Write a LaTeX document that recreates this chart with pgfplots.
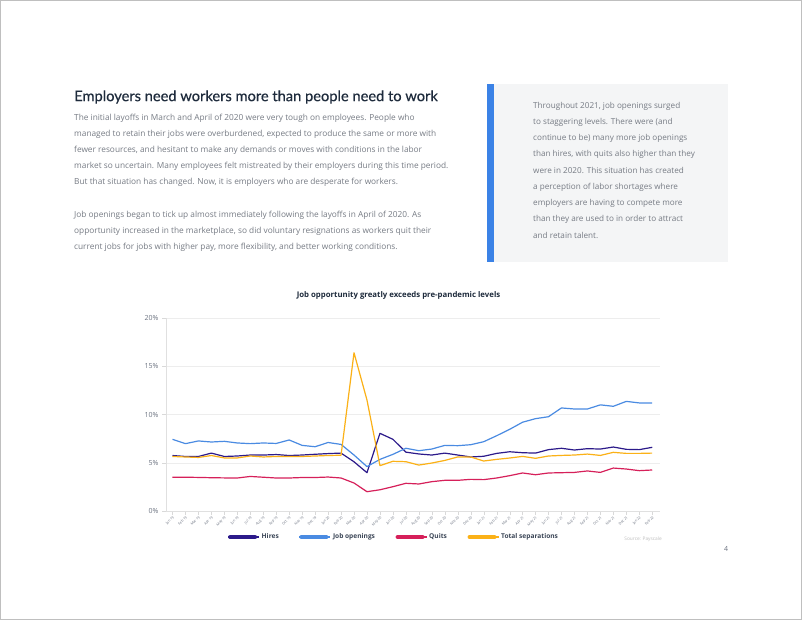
\documentclass[border=0pt]{standalone}
\usepackage{pgfplots}
\pgfplotsset{compat=1.18}
\usepackage{pgfplotstable}
\usepackage{fontspec}
\setmainfont{Open Sans}
\newfontfamily\titlefont{Lato}[FakeBold=0.5]
\definecolor{titlec}{HTML}{1E2B3C}
\definecolor{bodyc}{HTML}{767B84}
\definecolor{boxbg}{HTML}{F4F5F6}
\definecolor{barblue}{HTML}{3B82E6}
\definecolor{hiresc}{HTML}{2C1A8A}
\definecolor{jobsc}{HTML}{4A8BE2}
\definecolor{quitsc}{HTML}{D6205A}
\definecolor{sepc}{HTML}{FBB117}
\definecolor{tickc}{HTML}{6B7280}
\definecolor{legc}{HTML}{3A4556}

\pgfplotstableread{
i hires jobs quits seps
0 5.75 7.43 3.50 5.65
1 5.65 6.98 3.50 5.60
2 5.65 7.26 3.48 5.55
3 6.00 7.15 3.45 5.75
4 5.65 7.22 3.43 5.50
5 5.70 7.05 3.42 5.50
6 5.80 6.98 3.58 5.70
7 5.80 7.05 3.50 5.60
8 5.85 7.00 3.42 5.65
9 5.75 7.36 3.42 5.65
10 5.80 6.80 3.47 5.65
11 5.88 6.66 3.47 5.70
12 5.95 7.10 3.52 5.75
13 6.00 6.90 3.42 5.78
14 5.10 5.80 2.90 16.40
15 3.97 4.60 2.00 11.50
16 8.05 5.35 2.20 4.70
17 7.43 5.87 2.52 5.15
18 6.10 6.50 2.87 5.11
19 5.91 6.25 2.80 4.76
20 5.80 6.42 3.04 4.97
21 6.00 6.80 3.18 5.24
22 5.80 6.77 3.18 5.60
23 5.60 6.87 3.28 5.60
24 5.67 7.18 3.25 5.18
25 5.97 7.80 3.42 5.35
26 6.14 8.46 3.66 5.49
27 6.04 9.20 3.94 5.66
28 6.00 9.57 3.76 5.46
29 6.36 9.77 3.94 5.70
30 6.50 10.68 3.97 5.76
31 6.32 10.57 4.00 5.80
32 6.46 10.57 4.15 5.90
33 6.42 11.00 4.00 5.76
34 6.63 10.85 4.45 6.08
35 6.39 11.36 4.35 5.97
36 6.36 11.20 4.18 5.97
37 6.60 11.20 4.25 6.00
}\datatable

\begin{document}
\begin{tikzpicture}[x=1pt,y=1pt]
\fill[white] (0,0) rectangle (802,-620);
\draw[black!25, line width=0.8pt] (0.4,-0.4) rectangle (801.6,-619.6);

% left text
\node[anchor=west, inner sep=0, text=titlec, font=\titlefont\fontsize{14.65}{17}\selectfont] at (74,-97) {Employers need workers more than people need to work};
\begin{scope}[every node/.style={anchor=west, inner sep=0, text=bodyc, font=\fontsize{8.3}{10}\selectfont}]
\node at (74,-118) {The initial layoffs in March and April of 2020 were very tough on employees. People who};
\node at (74,-134) {managed to retain their jobs were overburdened, expected to produce the same or more with};
\node at (74,-150) {fewer resources, and hesitant to make any demands or moves with conditions in the labor};
\node at (74,-166) {market so uncertain. Many employees felt mistreated by their employers during this time period.};
\node at (74,-182) {But that situation has changed. Now, it is employers who are desperate for workers.};
\node at (74,-215) {Job openings began to tick up almost immediately following the layoffs in April of 2020. As};
\node at (74,-231) {opportunity increased in the marketplace, so did voluntary resignations as workers quit their};
\node at (74,-247) {current jobs for jobs with higher pay, more flexibility, and better working conditions.};
\end{scope}

% right box
\fill[boxbg] (487,-84) rectangle (728,-262);
\fill[barblue] (487,-84) rectangle (494,-262);
\begin{scope}[every node/.style={anchor=west, inner sep=0, text=bodyc, font=\fontsize{8.15}{10}\selectfont}]
\node at (533,-106) {Throughout 2021, job openings surged};
\node at (533,-122.5) {to staggering levels. There were (and};
\node at (533,-138.7) {continue to be) many more job openings};
\node at (533,-154.7) {than hires, with quits also higher than they};
\node at (533,-170.7) {were in 2020. This situation has created};
\node at (533,-187.2) {a perception of labor shortages where};
\node at (533,-203.3) {employers are having to compete more};
\node at (533,-219.3) {than they are used to in order to attract};
\node at (533,-235.3) {and retain talent.};
\end{scope}

% chart title
\node[inner sep=0, text=titlec, font=\bfseries\fontsize{7.8}{9}\selectfont] at (398.5,-295) {Job opportunity greatly exceeds pre-pandemic levels};

\begin{axis}[
  at={(166pt,-511pt)}, anchor=south west,
  scale only axis, width=494pt, height=193pt,
  xmin=-0.5, xmax=37.6, ymin=0, ymax=20,
  axis lines*=left, axis line style={black!12, -},
  ytick={0,5,10,15,20}, yticklabels={0\%,5\%,10\%,15\%,20\%},
  xtick={0,...,37},
  xticklabels={Jan 19,Feb 19,Mar 19,Apr 19,May 19,Jun 19,Jul 19,Aug 19,Sep 19,Oct 19,Nov 19,Dec 19,Jan 20,Feb 20,Mar 20,Apr 20,May 20,Jun 20,Jul 20,Aug 20,Sep 20,Oct 20,Nov 20,Dec 20,Jan 21,Feb 21,Mar 21,Apr 21,May 21,Jun 21,Jul 21,Aug 21,Sep 21,Oct 21,Nov 21,Dec 21,Jan 22,Feb 22},
  x tick label style={rotate=45, anchor=north east, font=\fontsize{3.5}{4}\selectfont, text=tickc, inner sep=0.5pt},
  y tick label style={font=\fontsize{7}{8}\selectfont, text=tickc},
  /pgf/number format/assume math mode=true,
  tick align=outside, major tick length=4pt, tick style={black!15},
  ymajorgrids, grid style={black!7},
  clip=false,
  legend columns=4,
  legend style={at={(0.118,-0.135)}, anchor=west, draw=none, fill=none,
    font=\bfseries\fontsize{6.6}{7}\selectfont, text=legc,
    /tikz/every even column/.append style={column sep=18pt}},
  legend image code/.code={\draw[line width=4pt, line cap=round] (2pt,0pt) -- (27pt,0pt); \path (0pt,0pt) -- (31pt,0pt);},
  every axis plot/.append style={line width=1.2pt, no markers, line join=round},
]
\addplot[hiresc] table[x=i, y=hires] {\datatable};
\addplot[jobsc] table[x=i, y=jobs] {\datatable};
\addplot[quitsc] table[x=i, y=quits] {\datatable};
\addplot[sepc] table[x=i, y=seps] {\datatable};
\legend{Hires, Job openings, Quits, Total separations}
\end{axis}

\node[anchor=east, inner sep=0, text=black!25, font=\fontsize{4.8}{5}\selectfont] at (662,-539) {Source: Payscale};
\node[inner sep=0, text=tickc, font=\fontsize{7}{8}\selectfont] at (726,-549) {4};
\end{tikzpicture}
\end{document}
